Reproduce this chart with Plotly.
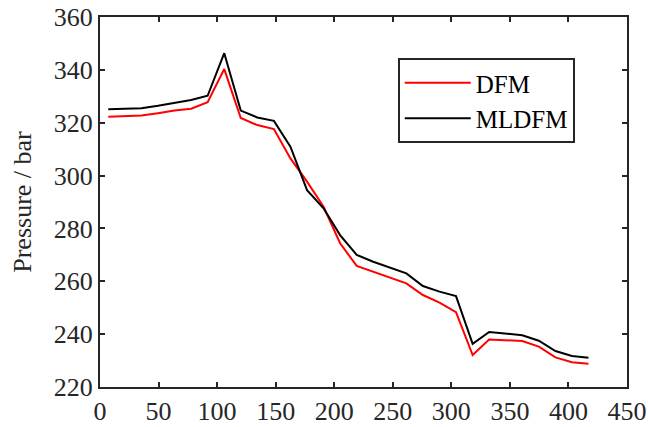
import plotly.graph_objects as go

distance = [7.07, 21.2, 35.4, 49.5, 63.6, 77.8, 91.9, 106.1, 120.2, 134.3,
            148.5, 162.6, 176.8, 190.9, 205.0, 219.2, 233.3, 247.5, 261.6, 275.7,
            289.9, 304.0, 318.2, 332.3, 346.4, 360.6, 374.7, 388.9, 403.0, 417.1]
dfm = [322.3, 322.4, 322.7, 323.6, 324.6, 325.3, 327.8, 340.3, 321.8, 319.1,
       317.6, 306.5, 297.7, 288.2, 274.4, 265.8, 263.6, 261.5, 259.2, 254.8,
       251.9, 248.3, 232.1, 238.0, 237.6, 237.4, 235.3, 231.2, 229.4, 228.8]
mldfm = [325.1, 325.3, 325.5, 326.4, 327.5, 328.6, 330.2, 346.3, 324.6, 322.0,
         320.7, 310.9, 294.5, 287.6, 277.5, 270.0, 267.4, 265.3, 263.0, 258.2,
         256.1, 254.4, 236.3, 240.8, 240.2, 239.6, 237.5, 233.6, 231.7, 231.1]

x_ticks = [0, 50, 100, 150, 200, 250, 300, 350, 400, 450]
y_ticks = [220, 240, 260, 280, 300, 320, 340, 360]

font_family = "Liberation Serif"
axis_col = "#262626"
fsize = 26

fig = go.Figure()
fig.add_trace(go.Scatter(x=distance, y=dfm, mode="lines", name="DFM",
                         line=dict(color="#ff0000", width=2)))
fig.add_trace(go.Scatter(x=distance, y=mldfm, mode="lines", name="MLDFM",
                         line=dict(color="#000000", width=2)))

axis_common = dict(showgrid=False, zeroline=False, showline=True, linecolor=axis_col,
                   linewidth=2, mirror="ticks", ticks="inside", ticklen=5,
                   tickwidth=2, tickcolor=axis_col, automargin=False,
                   ticklabeloverflow="allow",
                   tickfont=dict(family=font_family, size=fsize, color=axis_col))

fig.update_xaxes(range=[0, 450], tickvals=x_ticks, **axis_common)
fig.update_yaxes(range=[220, 360], tickvals=y_ticks,
                 title=dict(text="Pressure / bar", font=dict(family=font_family, size=fsize, color=axis_col),
                            standoff=15),
                 **axis_common)

fig.update_layout(
    width=648, height=427,
    margin=dict(l=100, r=21, t=17, b=40),
    paper_bgcolor="white", plot_bgcolor="white",
    font=dict(family=font_family),
    showlegend=True,
    legend=dict(x=0.565, y=0.889, xanchor="left", yanchor="top",
                bgcolor="white", bordercolor="#262626", borderwidth=2,
                font=dict(family=font_family, size=25, color="black"),
                itemwidth=66, tracegroupgap=0),
)

# remove the page's default body margin so the figure sits at the window's corner
fig.write_html("out.html", config={"displayModeBar": False},
               post_script="document.body.style.margin='0';")
